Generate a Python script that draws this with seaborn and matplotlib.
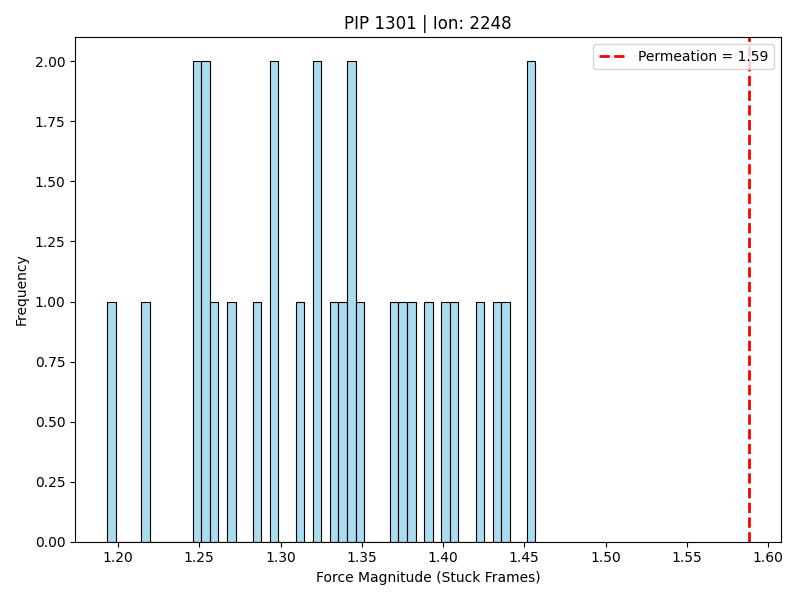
import matplotlib
matplotlib.use('Agg')
import matplotlib.pyplot as plt
import seaborn as sns
import pandas as pd

force_values = [1.1959, 1.2170, 1.2487, 1.2487, 1.2539, 1.2539, 1.2592, 1.2697, 1.2855,
                1.2961, 1.2961, 1.3119, 1.3224, 1.3224, 1.3330, 1.3382, 1.3435, 1.3435,
                1.3488, 1.3699, 1.3751, 1.3804, 1.3909, 1.4015, 1.4067, 1.4226, 1.4331,
                1.4384, 1.4542, 1.4542]
permeation = 1.588

df = pd.DataFrame({'force': force_values})

fig, ax = plt.subplots(figsize=(8, 6), dpi=100)
sns.histplot(data=df, x='force', bins=50, binrange=(1.1933, 1.4569),
             color='skyblue', edgecolor='black', alpha=0.7, ax=ax)
ax.axvline(permeation, color='red', linestyle='--', linewidth=2,
           label=f'Permeation = {permeation:.2f}')
ax.set_title('PIP 1301 | Ion: 2248')
ax.set_xlabel('Force Magnitude (Stuck Frames)')
ax.set_ylabel('Frequency')
ax.set_yticks([0, 0.25, 0.5, 0.75, 1.0, 1.25, 1.5, 1.75, 2.0])
ax.set_yticklabels([f'{v:.2f}' for v in [0, 0.25, 0.5, 0.75, 1.0, 1.25, 1.5, 1.75, 2.0]])
ax.legend(loc='upper right')
plt.tight_layout()
plt.savefig('out.png')
